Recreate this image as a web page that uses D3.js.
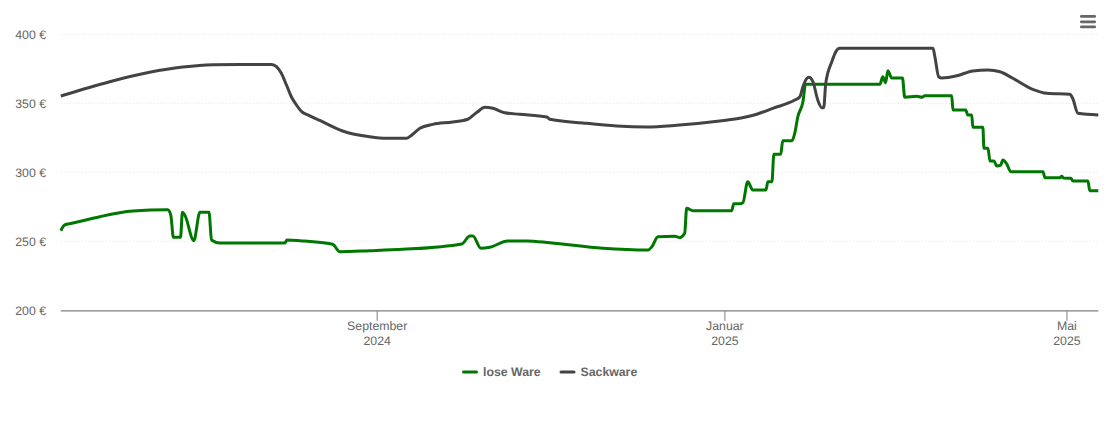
<!DOCTYPE html>
<html>
<head>
<meta charset="utf-8">
<script src="https://cdn.jsdelivr.net/npm/d3@7/dist/d3.min.js"></script>
<style>
html,body{margin:0;padding:0;background:#fff;}
svg{display:block;font-family:"Liberation Sans",Arial,sans-serif;text-rendering:geometricPrecision;}
</style>
</head>
<body>
<svg id="c" width="1110" height="422"></svg>
<script>
// Data: day offset from the first date, and price in euro
const startDate = new Date(2024, 4, 13);
const endDate = new Date(2025, 4, 12);
const seriesNames = ["lose Ware", "Sackware"];
const seriesColors = ["#007700", "#434343"];
const yTicks = [200, 250, 300, 350, 400];
const xTickDates = [new Date(2024, 8, 1), new Date(2025, 0, 1), new Date(2025, 4, 1)];
const xTickMonths = ["September", "Januar", "Mai"];
const xTickYears = ["2024", "2025", "2025"];

const looseDays = [0,1.4,3.9,8.4,13.7,25.3,37.5,38.6,39.5,42,42.7,43.5,46.7,48.8,52,52.9,55.8,78.6,79.4,83.9,95.4,97.9,
 108.4,120,140.7,143.5,144.6,147.4,150.5,156.8,163.5,171.6,190.2,206,207.4,209.5,215.4,217.2,218.9,219.6,221.8,235.4,
 236.1,238.2,239.3,241,242.8,247.4,248.1,249.5,250.2,252.6,253.3,256.5,257.5,258.6,260.4,261.3,287.4,288.4,289.4,290.2,
 291.5,295.3,296.1,300.4,302.1,303.2,312.6,313,317.5,318.2,319.6,320,323.5,323.9,325.3,326,327.4,328.4,329.8,330.5,
 331.9,333.3,344.6,345.3,350.5,351.2,351.9,354.4,355.1,360.4,361,364];
const loosePrices = [257.8,262,263.2,265.4,268,272.1,273,269.2,253,253,271.2,269.2,250.6,271.2,271.2,251.1,248.9,248.9,251.1,250.6,248,242.6,
 243.3,244.3,248.2,254,254,245.1,245.8,250.4,250.4,249.1,245.1,243.8,246.2,253.5,253.8,252.8,255.9,274.1,272.3,272.3,
 277.4,277.4,278.1,293.3,287.3,287.3,293.3,293.3,313.2,313.2,323,323,328.4,340.4,351.3,363.9,363.9,369.4,365.1,373.8,
 368.5,368.5,354.5,355.2,354.5,355.7,355.7,345.3,345.3,341.7,341.7,332.8,332.8,317.5,317.5,308.3,308.3,304.7,305.4,309.1,
 306.2,300.6,300.6,296.2,296.2,297.2,296,295.8,293.8,293.8,286.8,286.8];

const sackDays = [0,17.2,31.2,42.8,53.3,62.8,74,75.7,77.4,79.2,80.9,82.7,84.5,87,90.9,98.9,108.4,114.4,121.4,123.2,126,130.5,137.5,
 142.8,146,148.8,151.6,155.8,161,170.5,171.6,183.2,195.1,205.6,216.1,231.2,238.2,244.2,249.8,257.5,259.3,260.4,261.8,
 262.5,263.9,265.6,267,267.7,268.4,270.5,272.3,273.3,306,306.7,308,309.1,314.4,320,325.3,329.5,334,341,346,
 354,355,356.9,364];
const sackPrices = [355.4,365.8,372.6,376.4,378.1,378.3,378.3,376.7,371.9,363.4,354.9,348.9,344.1,341.4,337.7,330.1,325.9,324.8,324.8,327.2,332,334.9,336.6,
 338.6,343.6,347.2,346.5,343.3,342.2,340.2,338.6,335.9,333.7,333,334.2,337.3,339.3,342.2,346.5,352.5,354.9,362.2,368.3,
 369,365.8,352.5,347,347,364.6,380.3,388.8,390,390,383.9,369.4,368.5,370.1,373.6,374.3,373,368.3,360.3,357.4,
 356.7,353.8,342.9,341.7];

const svg = d3.select("#c");
const x = d3.scaleTime().domain([startDate, endDate]).range([60.8, 1098.3]);
const y = d3.scaleLinear().domain([200, 400]).range([310.5, 34.5]);
const textColor = "#666666";
const fontSize = 12.3;

// Y grid and labels
const yAxis = svg.append("g").attr("transform", "translate(61,0.8)")
  .call(d3.axisLeft(y).tickValues(yTicks).tickFormat(d => d + " €").tickSize(0).tickPadding(15).offset(0));
yAxis.select(".domain").remove();
yAxis.selectAll("text").attr("font-size", fontSize).attr("fill", textColor)
  .attr("font-family", '"Liberation Sans",Arial,sans-serif');
svg.append("g").selectAll("line").data(yTicks.filter(d => d > 200)).join("line")
  .attr("x1", 61).attr("x2", 1098.5)
  .attr("y1", d => y(d)).attr("y2", d => y(d))
  .attr("stroke", "#e8e8e8").attr("stroke-width", 1).attr("stroke-dasharray", "1,2");

// X axis
const xAxis = svg.append("g").attr("transform", "translate(0,310.8)")
  .call(d3.axisBottom(x).tickValues(xTickDates).tickSize(10).tickSizeOuter(0).tickFormat("").offset(0));
xAxis.select(".domain").attr("stroke", "#7f7f7f").attr("stroke-width", 1.2);
xAxis.selectAll(".tick line").attr("stroke", "#7f7f7f");
const tickLabels = svg.append("g").selectAll("text").data(xTickDates).join("text")
  .attr("text-anchor", "middle").attr("font-size", fontSize).attr("fill", textColor)
  .attr("transform", d => `translate(${x(d)},0)`);
tickLabels.append("tspan").attr("x", 0).attr("y", 330).text((d, i) => xTickMonths[i]);
tickLabels.append("tspan").attr("x", 0).attr("y", 345).text((d, i) => xTickYears[i]);

// Lines
const line = d3.line()
  .x(d => x(d3.timeHour.offset(startDate, d[0] * 24)))
  .y(d => y(d[1]))
  .curve(d3.curveMonotoneX);
const seriesData = [
  looseDays.map((d, i) => [d, loosePrices[i]]),
  sackDays.map((d, i) => [d, sackPrices[i]])
];
svg.append("g").selectAll("path").data(seriesData).join("path")
  .attr("d", line).attr("fill", "none")
  .attr("stroke", (d, i) => seriesColors[i]).attr("stroke-width", 3)
  .attr("stroke-linejoin", "round").attr("stroke-linecap", "butt");

// Legend
const legendX = [463.5, 561];
const legendTextX = [19.5, 19.5];
const legend = svg.append("g").selectAll("g").data(seriesNames).join("g")
  .attr("transform", (d, i) => `translate(${legendX[i]},372)`);
legend.append("line").attr("x1", 0).attr("x2", 13)
  .attr("stroke", (d, i) => seriesColors[i]).attr("stroke-width", 3).attr("stroke-linecap", "round");
legend.append("text").attr("x", (d, i) => legendTextX[i]).attr("y", 4).attr("font-size", fontSize).attr("font-weight", "bold")
  .attr("fill", textColor).text(d => d);

// Menu icon
svg.append("g").selectAll("rect").data([15, 20.5, 25.5]).join("rect")
  .attr("x", 1080).attr("y", d => d).attr("width", 16).attr("height", 2.8).attr("rx", 1.2)
  .attr("fill", textColor);
</script>
</body>
</html>
